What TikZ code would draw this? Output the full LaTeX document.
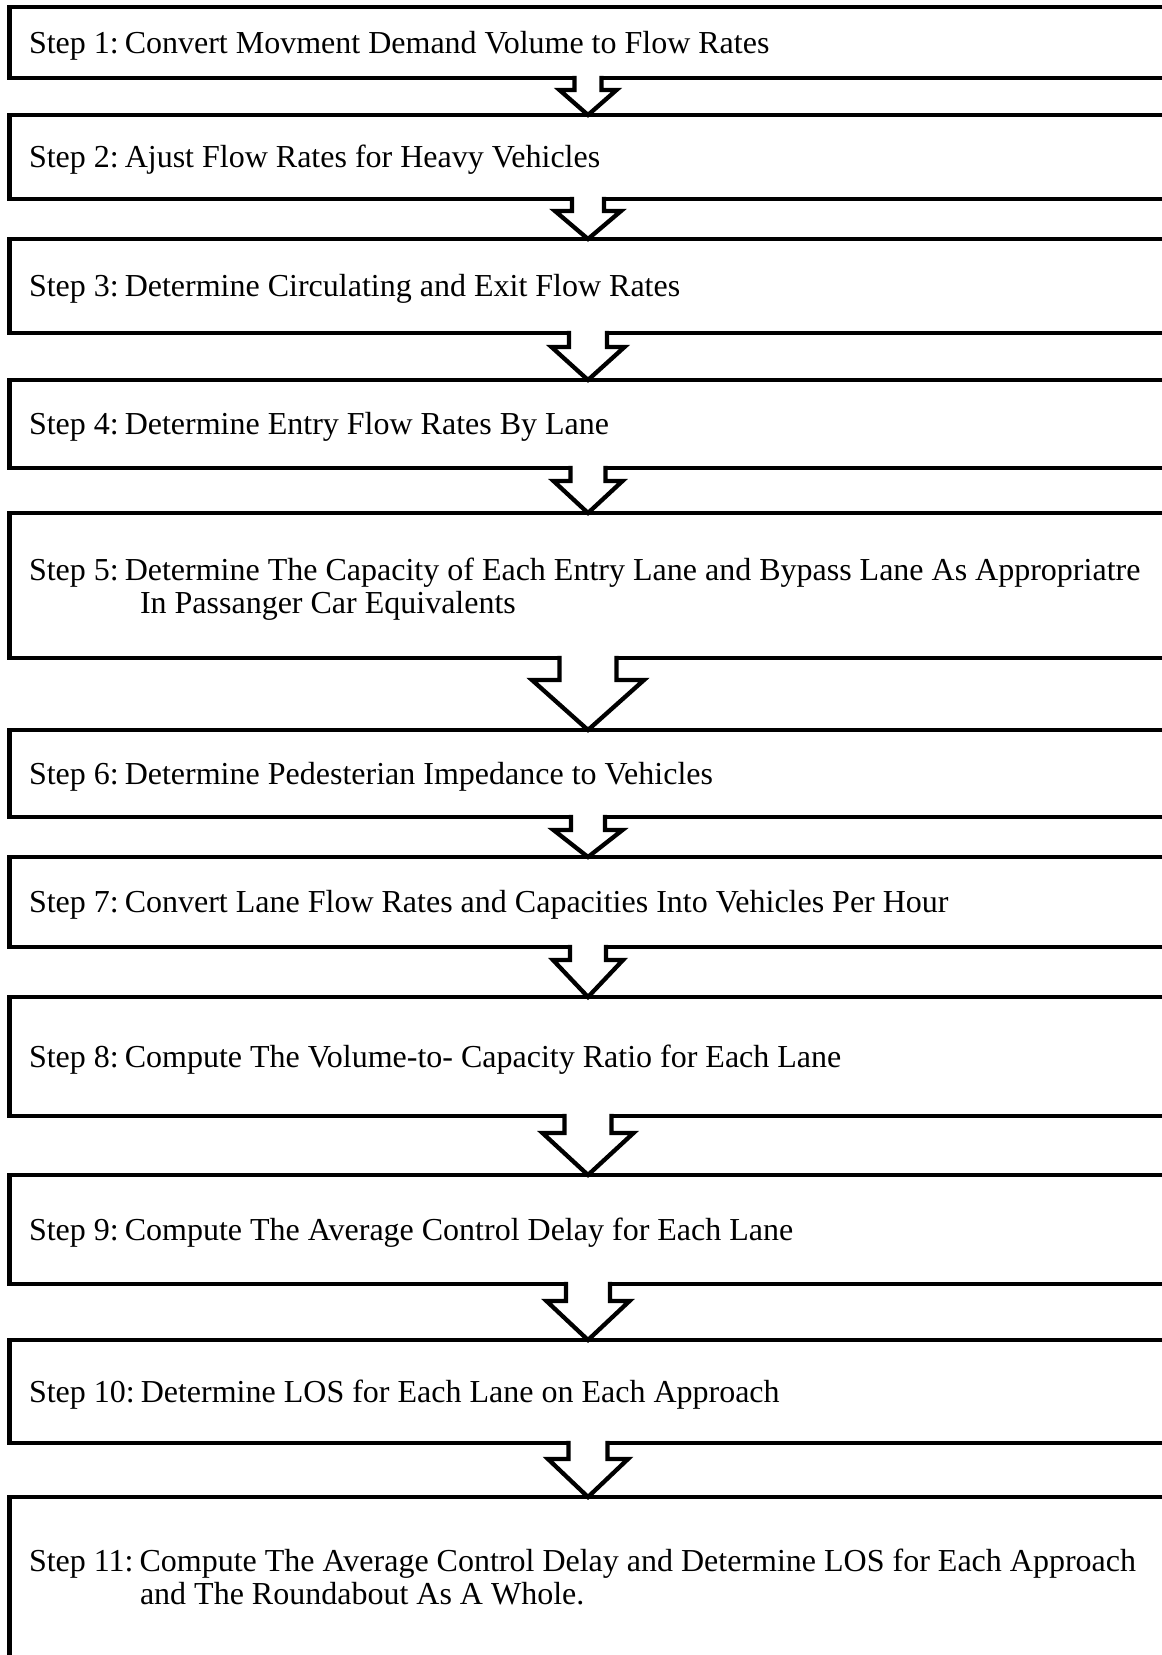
\documentclass[tikz,border=0pt]{standalone}
\usepackage{fontspec}
\setmainfont{Liberation Serif}
\usetikzlibrary{calc}
\tikzset{
  stepbox/.style={rectangle, draw=black, line width=4.3pt, minimum width=1157pt, inner sep=0pt, outer sep=0pt},
  steptext/.style={anchor=base west, inner sep=0pt, outer sep=0pt, font=\fontsize{32}{34}\selectfont},
  arrowline/.style={draw=black, line width=4.3pt, line join=miter, line cap=butt},
}
\newcommand{\stp}[1]{Step #1:\hspace{6pt}}
\newcommand{\blkarr}[5]{%
  \fill[white] ($(#1.south)+(-#3,-3)$) -- ($(#1.south)+(-#3,#5)$) -- ($(#1.south)+(-#4,#5)$) -- (#2.north) -- ($(#1.south)+(#4,#5)$) -- ($(#1.south)+(#3,#5)$) -- ($(#1.south)+(#3,-3)$) -- cycle;
  \draw[arrowline] ($(#1.south)+(-#3,-2.15)$) -- ($(#1.south)+(-#3,#5)$) -- ($(#1.south)+(-#4,#5)$) -- (#2.north) -- ($(#1.south)+(#4,#5)$) -- ($(#1.south)+(#3,#5)$) -- ($(#1.south)+(#3,-2.15)$);
}
\begin{document}
\begin{tikzpicture}[x=1pt,y=-1pt]
\useasboundingbox (0,0) rectangle (1162,1655);
\fill[white] (0,0) rectangle (1162,1655);
\clip (0,0) rectangle (1162,1655);

\node[stepbox, minimum height=71pt]  (b1)  at (588,42.5) {};
\node[stepbox, minimum height=84pt]  (b2)  at (588,157) {};
\node[stepbox, minimum height=94pt]  (b3)  at (588,286) {};
\node[stepbox, minimum height=88pt]  (b4)  at (588,424) {};
\node[stepbox, minimum height=145pt] (b5)  at (588,585.5) {};
\node[stepbox, minimum height=87pt]  (b6)  at (588,773.5) {};
\node[stepbox, minimum height=90pt]  (b7)  at (588,902) {};
\node[stepbox, minimum height=119pt] (b8)  at (588,1056.5) {};
\node[stepbox, minimum height=109pt] (b9)  at (588,1229.5) {};
\node[stepbox, minimum height=103pt] (b10) at (588,1391.5) {};
\node[stepbox, minimum height=168pt] (b11) at (588,1581) {};

\node[steptext] (t1)  at (29,53)     {\stp{1}Convert Movment Demand Volume to Flow Rates};
\node[steptext] (t2)  at (29,167.5)  {\stp{2}Ajust Flow Rates for Heavy Vehicles};
\node[steptext] (t3)  at (29,296.5)  {\stp{3}Determine Circulating and Exit Flow Rates};
\node[steptext] (t4)  at (29,434.5)  {\stp{4}Determine Entry Flow Rates By Lane};
\node[steptext] (t5a) at (29,580)    {\stp{5}Determine The Capacity of Each Entry Lane and Bypass Lane As Appropriatre};
\node[steptext] (t5b) at (140,613)   {In Passanger Car Equivalents};
\node[steptext] (t6)  at (29,784)    {\stp{6}Determine Pedesterian Impedance to Vehicles};
\node[steptext] (t7)  at (29,912.5)  {\stp{7}Convert Lane Flow Rates and Capacities Into Vehicles Per Hour};
\node[steptext] (t8)  at (29,1067)   {\stp{8}Compute The Volume-to- Capacity Ratio for Each Lane};
\node[steptext] (t9)  at (29,1240)   {\stp{9}Compute The Average Control Delay for Each Lane};
\node[steptext] (t10) at (29,1402)   {\stp{10}Determine LOS for Each Lane on Each Approach};
\node[steptext] (t11a) at (29,1571)  {\stp{11}Compute The Average Control Delay and Determine LOS for Each Approach};
\node[steptext] (t11b) at (140,1604) {and The Roundabout As A Whole.};

\blkarr{b1}{b2}{13.5}{28.5}{12}
\blkarr{b2}{b3}{16}{33}{12}
\blkarr{b3}{b4}{19}{36.5}{14}
\blkarr{b4}{b5}{17.5}{34.5}{13}
\blkarr{b5}{b6}{28.5}{56}{22}
\blkarr{b6}{b7}{17}{34.5}{13}
\blkarr{b7}{b8}{18}{35}{13}
\blkarr{b8}{b9}{23.5}{45.5}{17}
\blkarr{b9}{b10}{22}{41.5}{17}
\blkarr{b10}{b11}{19.5}{40}{16}
\end{tikzpicture}
\end{document}
